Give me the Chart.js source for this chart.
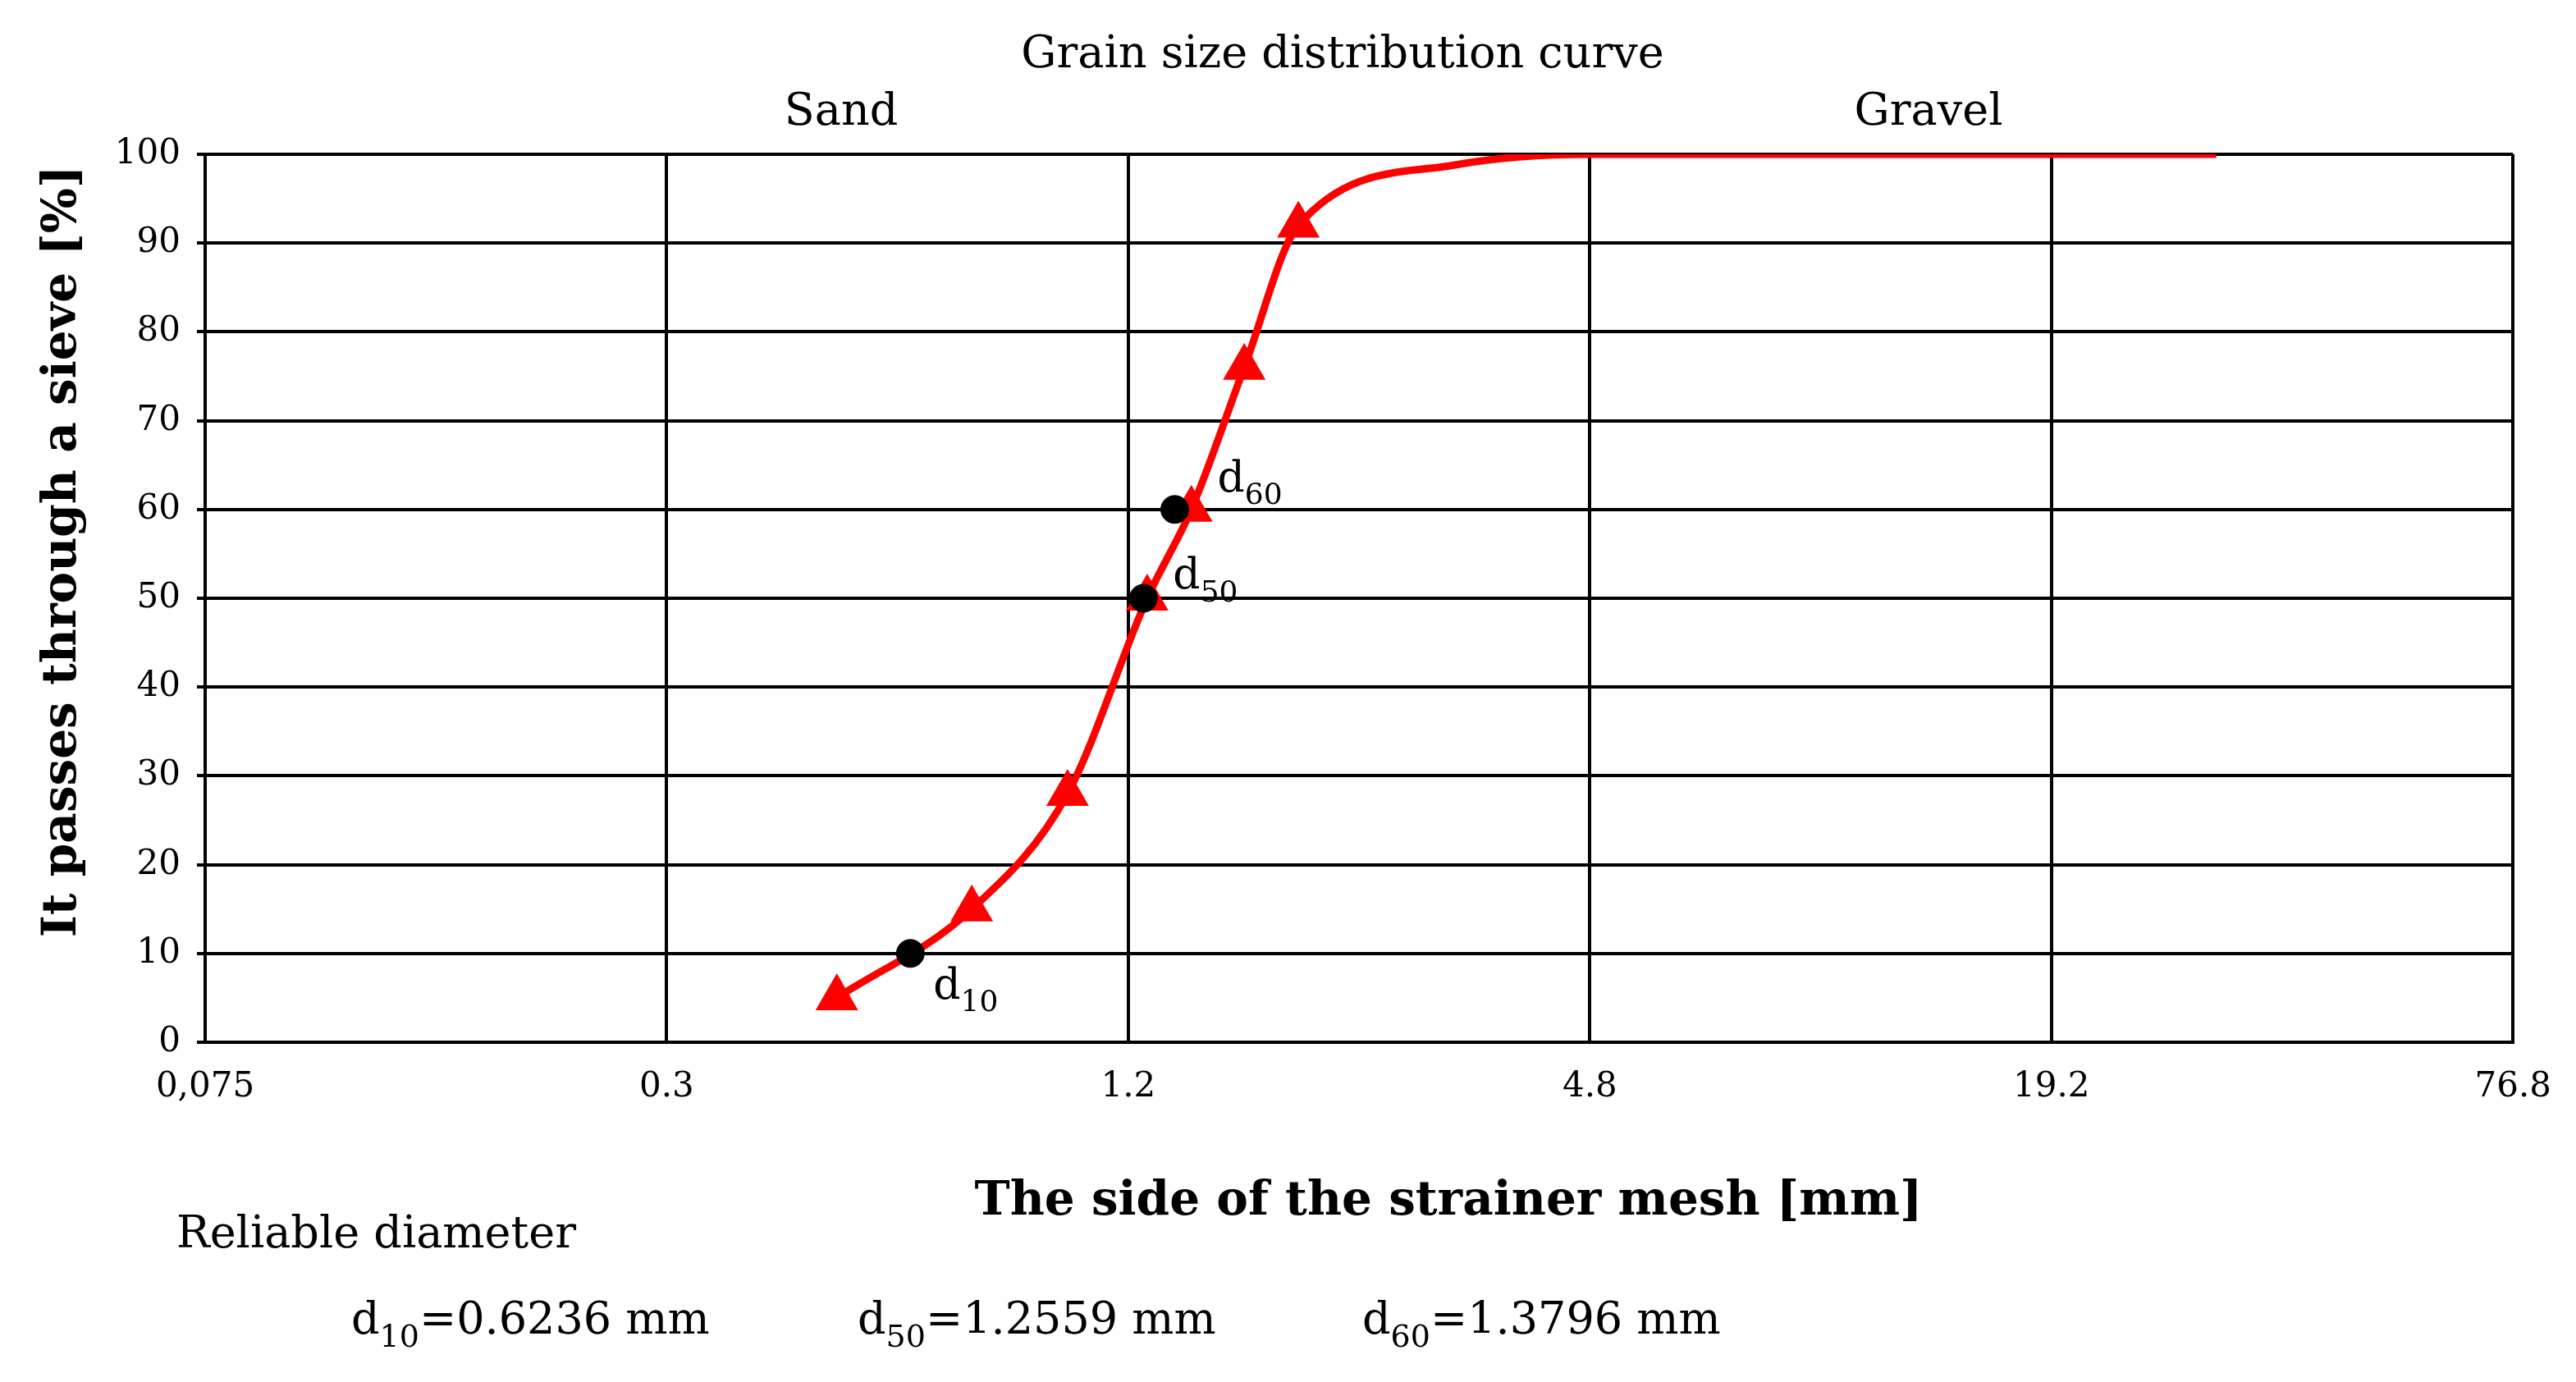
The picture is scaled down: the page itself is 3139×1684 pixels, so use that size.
<!DOCTYPE html>
<html>
<head>
<meta charset="utf-8">
<script src="https://cdn.jsdelivr.net/npm/chart.js@4"></script>
<style>
  html, body { margin: 0; padding: 0; background: #fff; }
</style>
</head>
<body>
<canvas id="c" width="3139" height="1684"></canvas>
<script>
// sieve curve (mm, % passing)
const curveX = [0.5, 0.75, 1.0, 1.27, 1.45, 1.7, 2.0, 3.2, 4.8, 31.5];
const curveY = [5, 15, 28, 50, 60, 76, 92, 98.8, 100, 100];
const measured = [true, true, true, true, true, true, true, false, false, false];
// characteristic diameters
const dNames = ['10', '50', '60'];
const dX = [0.6236, 1.2559, 1.3796];
const dY = [10, 50, 60];
const xTicks = [0.075, 0.3, 1.2, 4.8, 19.2, 76.8];
const xTickLabels = ['0,075', '0.3', '1.2', '4.8', '19.2', '76.8'];
const yTicks = [0, 10, 20, 30, 40, 50, 60, 70, 80, 90, 100];

const SERIF = '"DejaVu Serif", "Liberation Serif", serif';

function sub(ctx, x, y, main, s, size) {
  ctx.font = size + 'px ' + SERIF;
  ctx.textAlign = 'left';
  ctx.fillText(main, x, y);
  const w = ctx.measureText(main).width;
  ctx.font = Math.round(size * 0.7) + 'px ' + SERIF;
  ctx.fillText(s, x + w, y + size * 0.3);
  return x + w + ctx.measureText(s).width;
}

const textPlugin = {
  id: 'texts',
  afterDraw(chart) {
    const ctx = chart.ctx;
    const xs = chart.scales.x, ys = chart.scales.y;
    ctx.save();
    ctx.fillStyle = '#000';
    ctx.textBaseline = 'alphabetic';
    ctx.textAlign = 'center';
    ctx.font = '54px ' + SERIF;
    ctx.fillText('Grain size distribution curve', 1636, 82);
    ctx.fillText('Sand', 1025, 152);
    ctx.fillText('Gravel', 2350, 152);
    ctx.font = 'bold 58px ' + SERIF;
    ctx.fillText('The side of the strainer mesh [mm]', 1765, 1480);
    ctx.save();
    ctx.translate(92, 672);
    ctx.rotate(-Math.PI / 2);
    ctx.fillText('It passes through a sieve [%]', 0, 0);
    ctx.restore();
    ctx.font = '54px ' + SERIF;
    ctx.textAlign = 'left';
    ctx.fillText('Reliable diameter', 215, 1520);
    let e = sub(ctx, 428, 1625, 'd', '10', 54);
    ctx.font = '54px ' + SERIF; ctx.fillText('=' + dX[0] + ' mm', e, 1625);
    e = sub(ctx, 1045, 1625, 'd', '50', 54);
    ctx.font = '54px ' + SERIF; ctx.fillText('=' + dX[1] + ' mm', e, 1625);
    e = sub(ctx, 1660, 1625, 'd', '60', 54);
    ctx.font = '54px ' + SERIF; ctx.fillText('=' + dX[2] + ' mm', e, 1625);
    // d labels near points
    const off = [[28, 55], [36, -12], [52, -22]];
    dNames.forEach((n, i) => {
      const px = xs.getPixelForValue(dX[i]) + off[i][0];
      const py = ys.getPixelForValue(dY[i]) + off[i][1];
      sub(ctx, px, py, 'd', n, 52);
    });
    ctx.restore();
  }
};

new Chart(document.getElementById('c'), {
  type: 'scatter',
  data: {
    datasets: [
      {
        data: dX.map((x, i) => ({ x, y: dY[i] })),
        showLine: false,
        pointStyle: 'circle',
        pointRadius: 17,
        backgroundColor: '#000',
        borderColor: '#000'
      },
      {
        data: curveX.map((x, i) => ({ x, y: curveY[i] })),
        showLine: true,
        borderColor: '#ff0000',
        backgroundColor: '#ff0000',
        borderWidth: 9,
        cubicInterpolationMode: 'monotone',
        pointStyle: 'triangle',
        pointRadius: measured.map(m => m ? 30 : 0),
        pointBorderWidth: 0
      }
    ]
  },
  options: {
    responsive: false,
    animation: false,
    devicePixelRatio: 1,
    layout: { padding: { top: 188, right: 69, left: 0, bottom: 0 } },
    plugins: { legend: { display: false }, tooltip: { enabled: false } },
    scales: {
      x: {
        type: 'logarithmic',
        min: 0.075,
        max: 76.8,
        afterBuildTicks: s => { s.ticks = xTicks.map(v => ({ value: v })); },
        afterFit: s => { s.height = 414; },
        ticks: {
          callback: (v) => xTickLabels[xTicks.indexOf(v)] ?? '',
          font: { family: SERIF, size: 42 },
          color: '#000',
          padding: 30,
          maxRotation: 0,
          autoSkip: false
        },
        grid: { color: '#000', lineWidth: 4, drawTicks: false },
        border: { color: '#000', width: 4 }
      },
      y: {
        min: 0,
        max: 100,
        afterBuildTicks: s => { s.ticks = yTicks.map(v => ({ value: v })); },
        afterFit: s => { s.width = 250; },
        ticks: {
          font: { family: SERIF, size: 42 },
          color: '#000',
          padding: 20
        },
        grid: { color: '#000', lineWidth: 4, drawTicks: true, tickLength: 10 },
        border: { color: '#000', width: 4 }
      }
    }
  },
  plugins: [textPlugin]
});
</script>
</body>
</html>
